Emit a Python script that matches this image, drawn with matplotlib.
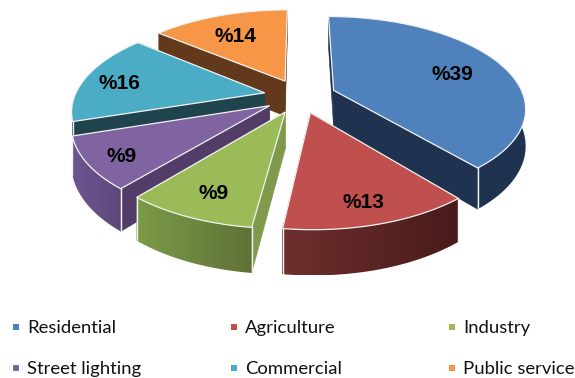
import numpy as np
import matplotlib
matplotlib.use('Agg')
import matplotlib.pyplot as plt
from matplotlib.colors import to_rgb
from matplotlib.patches import Polygon, Rectangle

# shares of each sector, clockwise from the top of the pie
sectors = ['Residential', 'Agriculture', 'Industry', 'Street lighting', 'Commercial', 'Public service']
shares = [39, 13, 9, 9, 16, 14]
top_colors = ['#4f81bd', '#c0504d', '#9bbb59', '#8064a2', '#4bacc6', '#f79646']
side_colors = ['#1f3350', '#4a1c1a', '#7f9a4b', '#523d68', '#1f444e', '#63391b']
wall_left = ['#1f3350', '#6e2f2d', '#7c9b48', '#6d5593', '#1f444e', '#63391b']
wall_right = ['#1f3350', '#481b1a', '#5f7237', '#5c4878', '#1f444e', '#63391b']
label_pos = [0.71, 0.8, 0.77, 0.83, 0.81, 0.72]

# projection of the tilted pie plane
cx, cy = 300, 96
rx, ry = 190, 89
persp = 0.18
explode = 0.19
depth = 36
edge = '#f2f2f2'


def project(px, py, z=0.0):
    w = 1 + persp * py
    return cx + rx * px / w, cy - ry * py / w + z / w


fig = plt.figure(figsize=(5.75, 3.78), dpi=100)
ax = fig.add_axes([0, 0, 1, 1])
ax.axis('off')

edges = np.radians(np.cumsum([0] + shares) * 3.6)
slices = []
for i in range(len(shares)):
    mid = (edges[i] + edges[i + 1]) / 2
    ox, oy = explode * np.sin(mid), explode * np.cos(mid)
    slices.append((oy, i, mid, ox))
slices.sort(reverse=True)

order = 1  # painter's order, back to front
for oy, i, mid, ox in slices:
    t = np.linspace(edges[i], edges[i + 1], 80)
    xs = ox + np.sin(t)
    ys = oy + np.cos(t)

    # radial side walls, the further one first
    ends = sorted((0, -1), key=lambda e: -ys[e])
    for end in ends:
        p = [project(ox, oy), project(xs[end], ys[end]),
             project(xs[end], ys[end], depth), project(ox, oy, depth)]
        ax.add_patch(Polygon(p, closed=True, fc=side_colors[i], ec=side_colors[i], lw=0.4, zorder=order))
        order += 1

    # outer wall with a left to right gradient, only the part facing the viewer
    front = np.cos(t) < 0.1
    if front.sum() > 1:
        upper = [project(a, b) for a, b in zip(xs[front], ys[front])]
        lower = [project(a, b, depth) for a, b in zip(xs[front], ys[front])]
        wall = Polygon(upper + lower[::-1], closed=True, fc='none', ec='none', zorder=order)
        ax.add_patch(wall)
        px = np.array(upper + lower)
        ramp = np.linspace(0, 1, 64)[None, :, None]
        grad = np.array(to_rgb(wall_left[i]))[None, None, :] * (1 - ramp) + np.array(to_rgb(wall_right[i]))[None, None, :] * ramp
        im = ax.imshow(grad, extent=(px[:, 0].min(), px[:, 0].max(), px[:, 1].max(), px[:, 1].min()),
                       aspect='auto', interpolation='bilinear', zorder=order)
        im.set_clip_path(wall)
        order += 1
        # light lines at the corners of the wall
        for end in (0, -1):
            if np.cos(t[end]) < -0.1:
                a = project(xs[end], ys[end])
                b = project(xs[end], ys[end], depth)
                ax.plot([a[0], b[0]], [a[1], b[1]], color=edge, lw=1.0, zorder=order)
        order += 1

    # top face
    top = [project(ox, oy)] + [project(a, b) for a, b in zip(xs, ys)]
    ax.add_patch(Polygon(top, closed=True, fc=top_colors[i], ec=edge, lw=0.9, zorder=order))
    order += 1

    lx, ly = project(ox + label_pos[i] * np.sin(mid), oy + label_pos[i] * np.cos(mid))
    ax.text(lx, ly + 4, '%' + str(shares[i]), ha='center', va='center', fontsize=15,
            fontweight='bold', family='Liberation Sans', color='black', zorder=1000)

# legend, two rows of three
col_x = [13, 231, 449]
row_y = [327, 368]
for i, name in enumerate(sectors):
    x = col_x[i % 3]
    y = row_y[i // 3]
    ax.add_patch(Rectangle((x, y - 3), 6, 6, fc=top_colors[i], ec='none'))
    ax.text(x + 14, y + 1, name, ha='left', va='center', fontsize=13.3, family='Lato', color='#111111')

ax.set_xlim(0, 575)
ax.set_ylim(378, 0)
fig.savefig('out.png', dpi=100)
